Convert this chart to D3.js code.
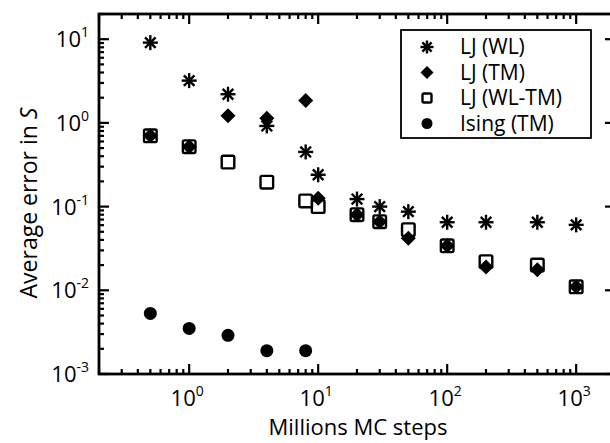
<!DOCTYPE html>
<html><head><meta charset="utf-8">
<script src="https://cdn.jsdelivr.net/npm/d3@7"></script>
<style>body{margin:0;background:#fff}svg{display:block}text{font-family:"Open Sans",sans-serif;fill:#000}</style>
</head><body>
<script>
const stepsLJ = [0.5, 1, 2, 4, 8, 10, 20, 30, 50, 100, 200, 500, 1000];
const errWL   = [9.1, 3.2, 2.2, 0.92, 0.45, 0.24, 0.123, 0.10, 0.087, 0.065, 0.065, 0.065, 0.0605];
const errTM   = [0.70, 0.52, 1.22, 1.14, 1.85, 0.126, 0.08, 0.066, 0.042, 0.034, 0.019, 0.0176, 0.011];
const errWLTM = [0.70, 0.52, 0.34, 0.196, 0.117, 0.10, 0.08, 0.066, 0.053, 0.034, 0.022, 0.020, 0.011];
const stepsIsing = [0.5, 1, 2, 4, 8];
const errIsing   = [0.0053, 0.0035, 0.0029, 0.0019, 0.0019];
const legendLabels = ["LJ (WL)", "LJ (TM)", "LJ (WL-TM)", "Ising (TM)"];
const xLabel = "Millions MC steps";
const yLabel = "Average error in ";

const W = 610, H = 443;
const svg = d3.select("body").append("svg").attr("width", W).attr("height", H);
const L = 99, R = 615, T = 14, B = 374;
const x = d3.scaleLog().domain([0.2, 2000]).range([L, R]);
const y = d3.scaleLog().domain([1e-3, 20]).range([B, T]);

const isMajor = v => Math.abs(Math.log10(v) - Math.round(Math.log10(v))) < 1e-9;
const ax = svg.append("g").attr("stroke", "#000").attr("stroke-width", 2.2);
x.ticks().forEach(v => {
  const len = isMajor(v) ? 10 : 5, px = x(v);
  ax.append("line").attr("x1", px).attr("x2", px).attr("y1", B).attr("y2", B - len);
  ax.append("line").attr("x1", px).attr("x2", px).attr("y1", T).attr("y2", T + len);
});
y.ticks().forEach(v => {
  const len = isMajor(v) ? 10 : 5, py = y(v);
  ax.append("line").attr("x1", L).attr("x2", L + len).attr("y1", py).attr("y2", py);
  ax.append("line").attr("x1", R).attr("x2", R - len).attr("y1", py).attr("y2", py);
});
svg.append("rect").attr("x", L).attr("y", T).attr("width", R - L).attr("height", B - T)
  .attr("fill", "none").attr("stroke", "#000").attr("stroke-width", 2.8);

const xMaj = x.ticks().filter(isMajor).filter(v => v >= 1);
xMaj.forEach(v => {
  const t = svg.append("text").attr("x", x(v) - 2).attr("y", 406).attr("text-anchor", "middle")
    .attr("font-size", 22);
  t.append("tspan").text("10");
  t.append("tspan").attr("dy", -10).attr("font-size", 14).text(Math.round(Math.log10(v)));
});
const yMaj = y.ticks().filter(isMajor);
yMaj.forEach(v => {
  const t = svg.append("text").attr("x", 89).attr("y", y(v) + 8).attr("text-anchor", "end")
    .attr("font-size", 22);
  t.append("tspan").text("10");
  t.append("tspan").attr("dy", -10).attr("font-size", 14).text(Math.round(Math.log10(v)));
});
svg.append("text").attr("x", 358).attr("y", 435).attr("text-anchor", "middle")
  .attr("font-size", 22).text(xLabel);
const yl = svg.append("text").attr("transform", "translate(37,203) rotate(-90)")
  .attr("text-anchor", "middle").attr("font-size", 23);
yl.append("tspan").text(yLabel);
yl.append("tspan").attr("font-style", "italic").text("S");

function star(g, cx, cy, r) {
  const s = g.append("g").attr("stroke", "#000").attr("stroke-width", 2.4);
  [0, 45, 90, 135].forEach(a => {
    const dx = r * Math.cos(a * Math.PI / 180), dy = r * Math.sin(a * Math.PI / 180);
    s.append("line").attr("x1", cx - dx).attr("x2", cx + dx).attr("y1", cy - dy).attr("y2", cy + dy);
  });
}
function diamond(g, cx, cy, r) {
  g.append("path").attr("d", `M${cx},${cy - r}L${cx + r},${cy}L${cx},${cy + r}L${cx - r},${cy}Z`).attr("fill", "#000");
}
function square(g, cx, cy, r) {
  g.append("rect").attr("x", cx - r).attr("y", cy - r).attr("width", 2 * r).attr("height", 2 * r)
    .attr("rx", 1.5).attr("fill", "none").attr("stroke", "#000").attr("stroke-width", 2.4);
}
function circle(g, cx, cy, r) {
  g.append("circle").attr("cx", cx).attr("cy", cy).attr("r", r).attr("fill", "#000");
}
const g = svg.append("g");
stepsLJ.forEach((s, i) => star(g, x(s), y(errWL[i]), 7.5));
stepsLJ.forEach((s, i) => diamond(g, x(s), y(errTM[i]), 7.5));
stepsLJ.forEach((s, i) => square(g, x(s), y(errWLTM[i]), 6.3));
stepsIsing.forEach((s, i) => circle(g, x(s), y(errIsing[i]), 6.5));

const lg = svg.append("g");
lg.append("rect").attr("x", 401).attr("y", 30).attr("width", 190).attr("height", 108)
  .attr("fill", "#fff").attr("stroke", "#000").attr("stroke-width", 1.8);
const fns = [(cx, cy) => star(lg, cx, cy, 6.5), (cx, cy) => diamond(lg, cx, cy, 6.5),
  (cx, cy) => square(lg, cx, cy, 4.5), (cx, cy) => circle(lg, cx, cy, 5.5)];
legendLabels.forEach((lab, i) => {
  const cy = 47 + i * 25.5;
  fns[i](427, cy);
  lg.append("text").attr("x", 460).attr("y", cy + 7).attr("font-size", 21).text(lab);
});
</script>
</body></html>
